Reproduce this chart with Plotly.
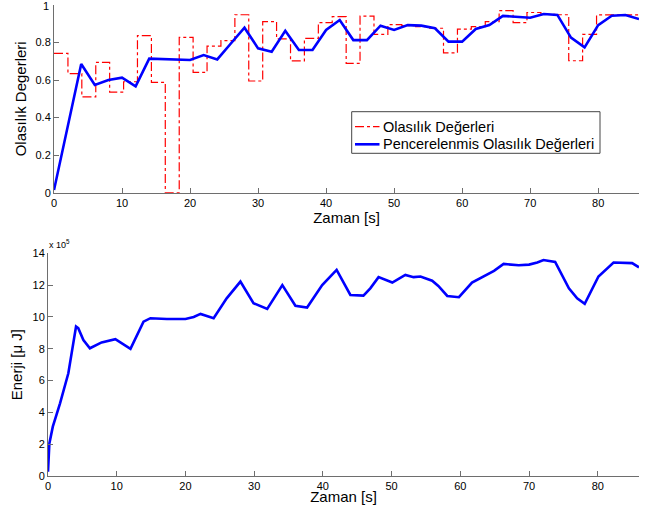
import plotly.graph_objects as go

# ---- data ----
# step (red) probabilities: step start times and values
prob_t = [0, 2.05, 4.09, 6.14, 8.18, 10.23, 12.27, 14.32, 16.36, 18.41, 20.45,
          22.5, 24.54, 26.59, 28.63, 30.68, 32.72, 34.77, 36.81, 38.86, 40.9,
          42.95, 44.99, 47.04, 49.08, 51.13, 53.17, 55.22, 57.26, 59.31, 61.35,
          63.4, 65.44, 67.49, 69.53, 71.58, 73.62, 75.67, 77.71, 79.76, 81.8,
          83.85, 86]
prob_v = [0.742, 0.634, 0.51, 0.694, 0.536, 0.591, 0.837, 0.588, 0.0, 0.828,
          0.641, 0.781, 0.81, 0.948, 0.595, 0.911, 0.819, 0.702, 0.822, 0.906,
          0.938, 0.689, 0.941, 0.844, 0.895, 0.89, 0.885, 0.876, 0.745, 0.871,
          0.885, 0.911, 0.97, 0.906, 0.96, 0.95, 0.948, 0.703, 0.844, 0.947,
          0.947, 0.947, 0.947]

# windowed (blue) probabilities
win_t = [0, 2, 4, 6, 8, 10, 12, 14, 16, 18, 20, 22, 24, 26, 28, 30, 32, 34,
         36, 38, 40, 42, 44, 46, 48, 50, 52, 54, 56, 58, 60, 62, 64, 66, 68,
         70, 72, 74, 76, 78, 80, 82, 84, 86]
win_v = [0.014, 0.35, 0.686, 0.574, 0.600, 0.613, 0.567, 0.714, 0.711, 0.709,
         0.707, 0.733, 0.710, 0.795, 0.879, 0.769, 0.751, 0.863, 0.760, 0.760,
         0.867, 0.920, 0.813, 0.813, 0.890, 0.867, 0.893, 0.890, 0.876, 0.805,
         0.805, 0.872, 0.893, 0.942, 0.938, 0.932, 0.952, 0.947, 0.826, 0.774,
         0.893, 0.943, 0.947, 0.925]

# energy (x 10^5 uJ)
en_t = [0, 0.2, 0.7, 1.75, 2.96, 4.08, 4.4, 5.15, 6.1, 7.8, 9.8, 11, 12, 13.9,
        14.9, 17.3, 20, 21.2, 22.2, 24.1, 26, 28, 29.9, 31.9, 34.1, 36, 37.7,
        39.9, 40.6, 42.0, 44.0, 45.9, 46.9, 48.1, 50.1, 52.0, 53.2, 54.2, 55.9,
        56.8, 58.1, 59.8, 61.7, 63.6, 64.9, 66.3, 68.5, 70.0, 71.2, 72.1, 73.8,
        75.8, 77.0, 78.1, 80.1, 82.3, 84.0, 85.0, 86.0]
en_v = [0.27, 2.05, 3.1, 4.57, 6.46, 9.39, 9.29, 8.55, 8.03, 8.4, 8.6, 8.24,
        7.99, 9.7, 9.92, 9.87, 9.87, 10.0, 10.19, 9.92, 11.17, 12.22, 10.86,
        10.5, 12.0, 10.7, 10.59, 12.0, 12.33, 12.96, 11.38, 11.34, 11.8, 12.5,
        12.16, 12.64, 12.5, 12.54, 12.28, 11.95, 11.32, 11.24, 12.16, 12.6,
        12.9, 13.33, 13.25, 13.29, 13.42, 13.58, 13.46, 11.8, 11.17, 10.82,
        12.54, 13.42, 13.42, 13.38, 13.12]

x_ticks = [0, 10, 20, 30, 40, 50, 60, 70, 80]
p_ticks = [0, 0.2, 0.4, 0.6, 0.8, 1]
p_tick_text = ["0", "0.2", "0.4", "0.6", "0.8", "1"]
e_ticks = [0, 2, 4, 6, 8, 10, 12, 14]

names = ["Olasılık Değerleri", "Pencerelenmis Olasılık Değerleri"]

W, H = 652, 505
font = "Liberation Sans, Arial, sans-serif"
axcol = "#6e6e6e"
RED, BLUE = "#ff0000", "#0000ff"

def px(x):
    return x / W

def py(y):
    return (H - y) / H

fig = go.Figure()
fig.add_trace(go.Scatter(x=prob_t, y=prob_v, mode="lines", line_shape="hv",
                         line=dict(color=RED, width=1.2, dash="dashdot"),
                         name=names[0], showlegend=False, xaxis="x", yaxis="y"))
fig.add_trace(go.Scatter(x=win_t, y=win_v, mode="lines",
                         line=dict(color=BLUE, width=2.6),
                         name=names[1], showlegend=False, xaxis="x", yaxis="y"))
fig.add_trace(go.Scatter(x=en_t, y=en_v, mode="lines",
                         line=dict(color=BLUE, width=2.6),
                         showlegend=False, xaxis="x2", yaxis="y2"))

common = dict(showgrid=False, zeroline=False, showline=True, linecolor=axcol,
              linewidth=1, ticks="inside", ticklen=5, tickcolor=axcol,
              automargin=False,
              tickfont=dict(family=font, size=11, color="black"))

# legend drawn as box + sample lines + text
shapes = [
    dict(type="rect", xref="paper", yref="paper", x0=px(351.7), x1=px(600),
         y0=py(153.3), y1=py(111.7), line=dict(color="#444", width=1),
         fillcolor="white", layer="above"),
    dict(type="line", xref="paper", yref="paper", x0=px(355), x1=px(379.5),
         y0=py(126.7), y1=py(126.7), line=dict(color=RED, width=1.2, dash="dashdot")),
    dict(type="line", xref="paper", yref="paper", x0=px(355), x1=px(379.5),
         y0=py(144.3), y1=py(144.3), line=dict(color=BLUE, width=2.6)),
]
annotations = [
    dict(text=names[0], x=px(380.5), y=py(126.7), xref="paper", yref="paper",
         xanchor="left", yanchor="middle", showarrow=False,
         font=dict(family=font, size=14.5, color="black")),
    dict(text=names[1], x=px(380.5), y=py(144.3), xref="paper", yref="paper",
         xanchor="left", yanchor="middle", showarrow=False,
         font=dict(family=font, size=14.5, color="black")),
    dict(text="x 10<sup>5</sup>", x=px(47), y=py(244), xref="paper", yref="paper",
         xanchor="left", yanchor="middle", showarrow=False,
         font=dict(family=font, size=9, color="black")),
    # top tick label "1" (plotly drops it at the page edge)
    dict(text=p_tick_text[-1], x=0, y=p_ticks[-1], xref="x", yref="y",
         xanchor="right", yanchor="middle", xshift=-3, yshift=-1, showarrow=False,
         font=dict(family=font, size=11, color="black")),
]

fig.update_layout(
    width=W, height=H, margin=dict(l=0, r=0, t=0, b=0, autoexpand=False),
    plot_bgcolor="white", paper_bgcolor="white",
    font=dict(family=font, color="black"),
    showlegend=False,
    xaxis=dict(domain=[px(54), px(639)], range=[0, 86], tickvals=x_ticks,
               anchor="y", title=dict(text="Zaman [s]", font=dict(size=15), standoff=0),
               **common),
    yaxis=dict(domain=[py(192.7), py(5)], range=[0, 1], tickvals=p_ticks,
               ticktext=p_tick_text, anchor="x",
               title=dict(text="Olasılık Degerleri", font=dict(size=15), standoff=5),
               **common),
    xaxis2=dict(domain=[px(48), px(639)], range=[0, 86], tickvals=x_ticks,
                anchor="y2", title=dict(text="Zaman [s]", font=dict(size=15), standoff=0),
                **common),
    yaxis2=dict(domain=[py(476), py(253.3)], range=[0, 14], tickvals=e_ticks,
                anchor="x2", title=dict(text="Enerji [μ J]", font=dict(size=15), standoff=6),
                **common),
    shapes=shapes,
    annotations=annotations,
)

fig.write_html("out.html", config={"displayModeBar": False},
               post_script="document.body.style.margin='0';")
